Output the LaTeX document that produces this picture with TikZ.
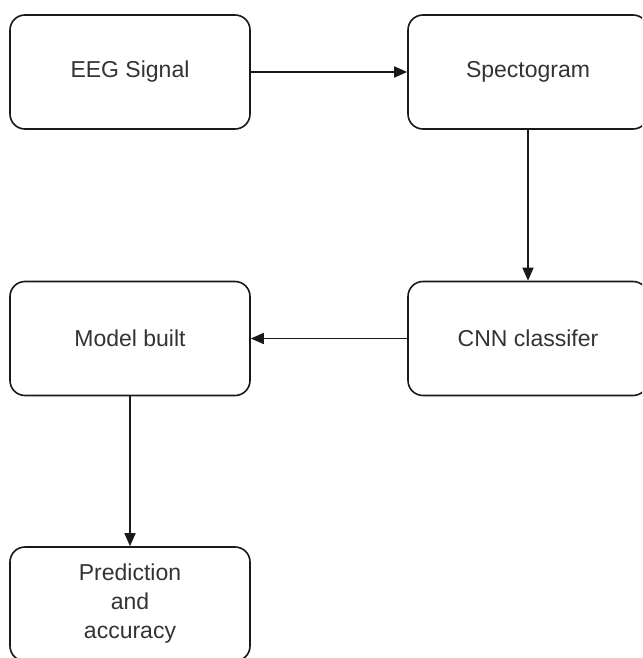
\documentclass[tikz,border=0pt]{standalone}
\usepackage{fontspec}
\setmainfont{Liberation Sans}
\usetikzlibrary{arrows.meta}
\begin{document}
\begin{tikzpicture}[x=1pt,y=-1pt,
  box/.style={draw=black!90, line width=1.6pt, rounded corners=15pt, fill=white,
    minimum width=240pt, minimum height=114pt, inner sep=0pt, text=black!80,
    font=\fontsize{23}{29}\selectfont, align=center},
  conn/.style={draw=black!90, line width=1.6pt, -{Triangle[length=13pt,width=11pt]}}]
\useasboundingbox (0,0) rectangle (642,658);
\clip (0,0) rectangle (642,658);
\fill[white] (0,0) rectangle (642,658);
\node[box] (eeg) at (130,72) {EEG Signal};
\node[box] (spec) at (528,72) {Spectogram};
\node[box] (cnn) at (528,338.5) {CNN classifer};
\node[box] (model) at (130,338.5) {Model built};
\node[box] (pred) at (130,604) {Prediction\\and\\accuracy};
\draw[conn] (eeg) -- (spec);
\draw[conn] (spec) -- (cnn);
\draw[conn] (cnn) -- (model);
\draw[conn] (model) -- (pred);
\end{tikzpicture}
\end{document}
